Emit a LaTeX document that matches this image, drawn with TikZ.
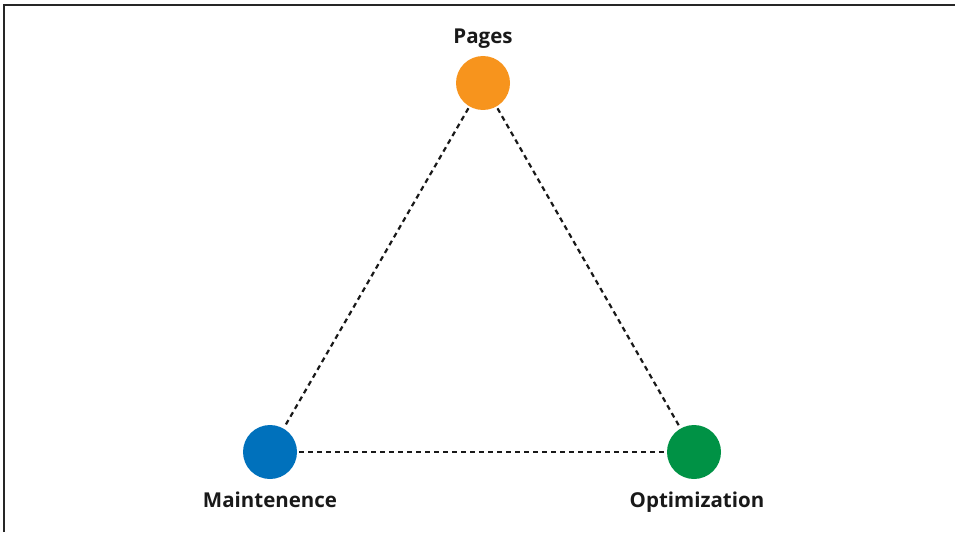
\documentclass[tikz,border=0pt]{standalone}
\usepackage{fontspec}
\setmainfont{Open Sans}
\definecolor{cOrange}{HTML}{F7941D}
\definecolor{cBlue}{HTML}{0071BC}
\definecolor{cGreen}{HTML}{009245}
\begin{document}
\begin{tikzpicture}[x=1pt,y=-1pt,
  dot/.style={circle,minimum size=54pt,inner sep=0pt,draw=none},
  lbl/.style={font=\fontsize{20.5}{24}\selectfont\bfseries,text=black!90,inner sep=0pt,anchor=base},
  link/.style={dashed,dash pattern=on 5pt off 4pt,line width=2.2pt,black!90,shorten <=2pt,shorten >=2pt}]
\useasboundingbox (0,0) rectangle (957,532);
\draw[line width=2pt,black!85] (3.5,532) -- (3.5,5) -- (955,5);
\node[dot,fill=cOrange] (p) at (483,83) {};
\node[dot,fill=cBlue] (m) at (270,452) {};
\node[dot,fill=cGreen] (o) at (694,452) {};
\node[lbl] (pl) at (483,44) {Pages};
\node[lbl] (ml) at (270,507) {Maintenence};
\node[lbl] (ol) at (697,507) {Optimization};
\draw[link] (p) -- (m);
\draw[link] (p) -- (o);
\draw[link] (m) -- (o);
\end{tikzpicture}
\end{document}
